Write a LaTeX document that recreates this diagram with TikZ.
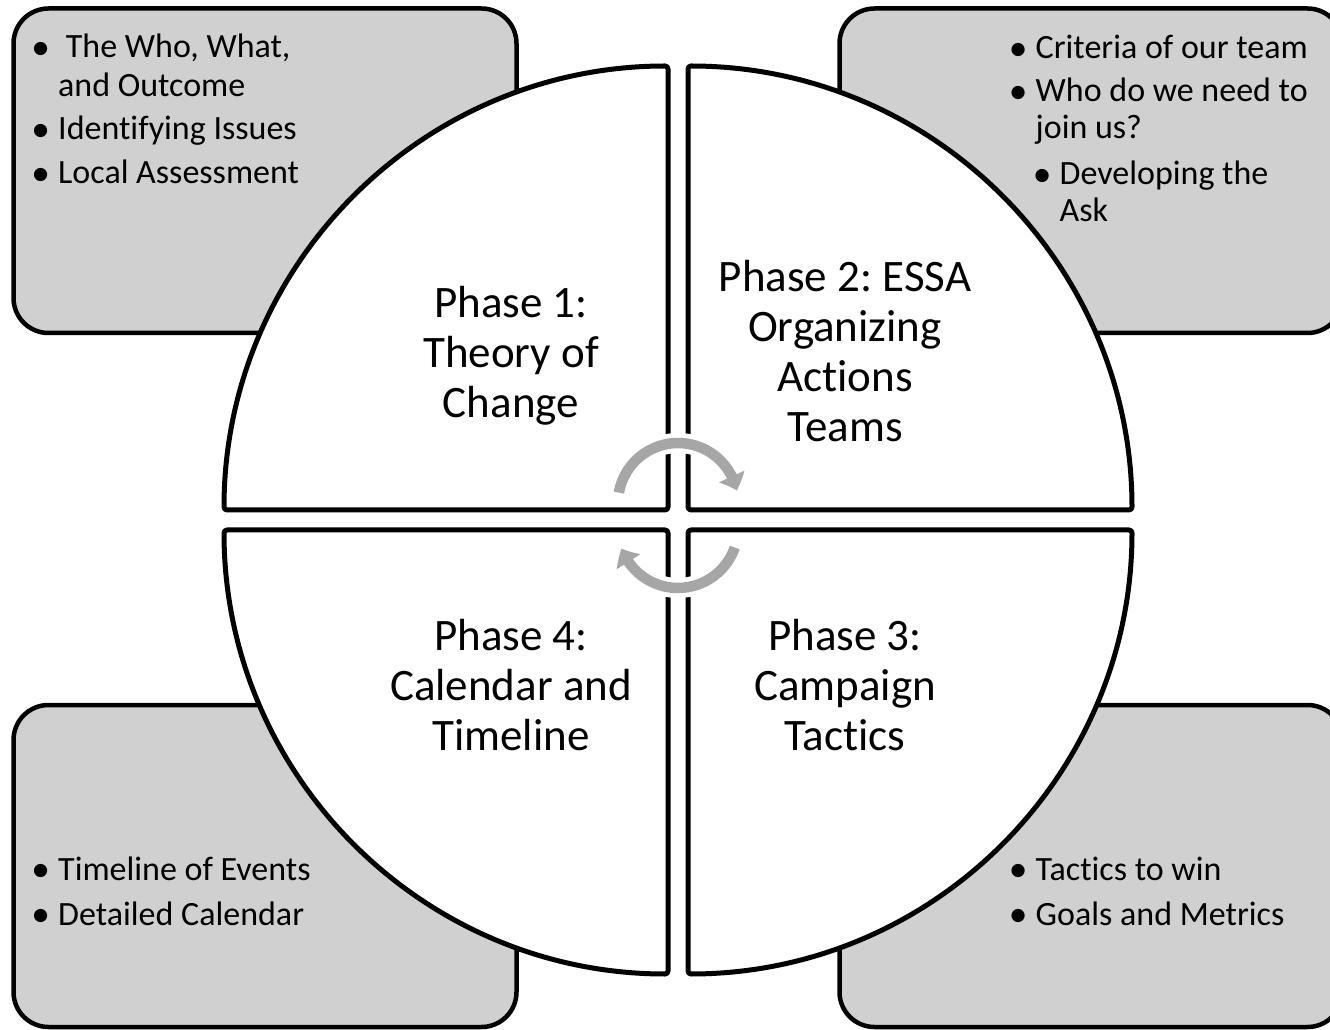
\documentclass[tikz,border=0pt]{standalone}
\usepackage{graphicx}
\usepackage{fontspec}
\setmainfont{Carlito}[Ligatures={NoCommon},Contextuals=NoAlternate]
\usetikzlibrary{arrows.meta,bending}
\definecolor{boxgray}{RGB}{208,208,208}
\definecolor{arrowgray}{RGB}{166,166,166}
\newcommand\bul{\makebox[35pt][c]{\raisebox{-0.035em}{\scalebox{1.1}{•}}}}
\begin{document}
\frenchspacing
\begin{tikzpicture}[x=1pt,y=1pt,
  sidebox/.style={draw=black, line width=4.5pt, fill=boxgray, rounded corners=35pt},
  quarter/.style={draw=black, line width=5pt, fill=white, line join=round, rounded corners=3pt},
  phasetext/.style={align=center, inner sep=0pt, font=\fontsize{45}{50}\selectfont},
  btext/.style={anchor=base west, inner sep=0pt, font=\fontsize{34}{37}\selectfont},
  cyclearrow/.style={draw=arrowgray, line width=10.5pt, -{Triangle[length=15pt,width=27pt,bend]}},
  arrowhalo/.style={draw=white, line width=20pt}
]
\useasboundingbox (0,0) rectangle (1330,1029);
\clip (0,0) rectangle (1330,1029);
% side boxes
\draw[sidebox] (13.5,696) rectangle (516.5,1020.5);
\draw[sidebox] (839.5,696) rectangle (1342.5,1020.5);
\draw[sidebox] (13.5,2) rectangle (516.5,324);
\draw[sidebox] (839.5,2) rectangle (1342.5,324);
% quarter circles
\draw[quarter] (668,519) -- (224,519) arc[start angle=180,end angle=90,radius=444] -- cycle;
\draw[quarter] (688,519) -- (688,963) arc[start angle=90,end angle=0,radius=444] -- cycle;
\draw[quarter] (688,499) -- (1132,499) arc[start angle=0,end angle=-90,radius=444] -- cycle;
\draw[quarter] (668,499) -- (668,55) arc[start angle=270,end angle=180,radius=444] -- cycle;
% cycle arrows
\draw[arrowhalo] (618.9,536.4) arc[start angle=170,end angle=12,radius=60];
\draw[cyclearrow] (618.9,536.4) arc[start angle=170,end angle=12,radius=60];
\draw[arrowhalo] (734.7,481.5) arc[start angle=-19,end angle=-160,radius=60];
\draw[cyclearrow] (734.7,481.5) arc[start angle=-19,end angle=-160,radius=60];
% phase labels
\node[phasetext] (p1) at (511,673) {Phase 1:\\Theory of\\Change};
\node[phasetext] (p2) at (845,677.5) {Phase 2: ESSA\\Organizing\\Actions\\Teams};
\node[phasetext] (p3) at (845,343.5) {Phase 3:\\Campaign\\Tactics};
\node[phasetext] (p4) at (511,343.5) {Phase 4:\\Calendar and\\Timeline};
% bullet texts
\node[btext] (tl1) at (23,971) {\bul\ The Who, What,};
\node[btext] (tl1b) at (58,932) {and Outcome};
\node[btext] (tl2) at (23,889) {\bul Identifying Issues};
\node[btext] (tl3) at (23,845) {\bul Local Assessment};
\node[btext] (tr1) at (1000.5,970) {\bul Criteria of our team};
\node[btext] (tr2) at (1000.5,927) {\bul Who do we need to};
\node[btext] (tr2b) at (1035.5,890) {join us?};
\node[btext] (tr3) at (1024.5,844) {\bul Developing the};
\node[btext] (tr3b) at (1059.5,807) {Ask};
\node[btext] (bl1) at (23,149) {\bul Timeline of Events};
\node[btext] (bl2) at (23,104) {\bul Detailed Calendar};
\node[btext] (br1) at (1000.5,149) {\bul Tactics to win};
\node[btext] (br2) at (1000.5,104) {\bul Goals and Metrics};
\end{tikzpicture}
\end{document}
